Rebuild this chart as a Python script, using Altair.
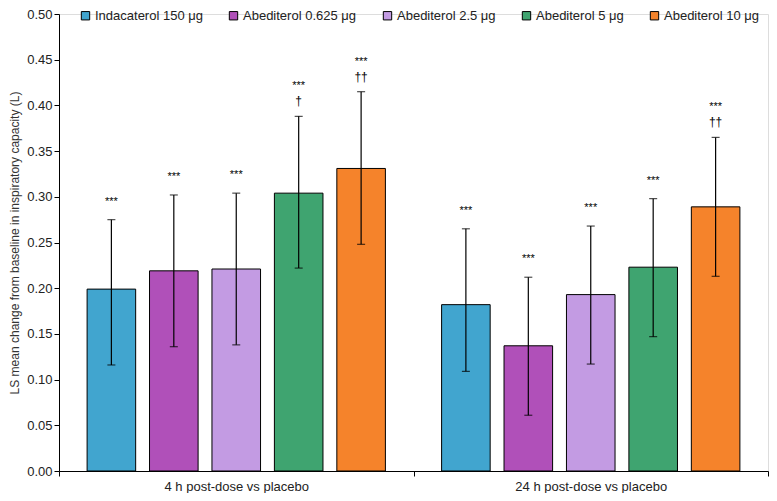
import altair as alt
import pandas as pd

groups = ["4 h post-dose vs placebo", "24 h post-dose vs placebo"]
treatments = ["Indacaterol 150 μg", "Abediterol 0.625 μg", "Abediterol 2.5 μg",
              "Abediterol 5 μg", "Abediterol 10 μg"]
colors = ["#41A5CF", "#B050B9", "#C39BE3", "#3FA470", "#F5832B"]

means_4h = [0.199, 0.219, 0.221, 0.304, 0.331]
lower_4h = [0.116, 0.136, 0.138, 0.222, 0.248]
upper_4h = [0.275, 0.302, 0.304, 0.388, 0.415]
stars_4h = ["***", "***", "***", "***", "***"]
daggers_4h = ["", "", "", "†", "††"]

means_24h = [0.182, 0.137, 0.193, 0.223, 0.289]
lower_24h = [0.109, 0.061, 0.117, 0.147, 0.213]
upper_24h = [0.265, 0.212, 0.268, 0.298, 0.365]
stars_24h = ["***", "***", "***", "***", "***"]
daggers_24h = ["", "", "", "", "††"]

rows = []
for g, m, lo, up, st, dg in [
    (groups[0], means_4h, lower_4h, upper_4h, stars_4h, daggers_4h),
    (groups[1], means_24h, lower_24h, upper_24h, stars_24h, daggers_24h),
]:
    for i, t in enumerate(treatments):
        rows.append({"group": g, "treatment": t, "mean": m[i], "lower": lo[i],
                     "upper": up[i], "stars": st[i], "dagger": dg[i],
                     "has_dagger": dg[i] != ""})
df = pd.DataFrame(rows)

FONT = "Liberation Sans"

x_enc = alt.X("group:N", sort=groups, title=None,
              scale=alt.Scale(paddingInner=0, paddingOuter=0),
              axis=alt.Axis(labelAngle=0, tickBand="extent", labelFontSize=13,
                            labelColor="#222", domainColor="black", tickColor="black",
                            tickSize=5, labelPadding=4, labelFont=FONT))
xoff = alt.XOffset("treatment:N", sort=treatments,
                   scale=alt.Scale(paddingInner=0.222, paddingOuter=0.45))
y_scale = alt.Scale(domain=[0, 0.5], nice=False)

base = alt.Chart(df)

bars = base.mark_bar(stroke="black", strokeWidth=1).encode(
    x=x_enc,
    xOffset=xoff,
    y=alt.Y("mean:Q", scale=y_scale,
            title="LS mean change from baseline in inspiratory capacity (L)",
            axis=alt.Axis(format=".2f", values=[i * 0.05 for i in range(11)],
                          grid=False, labelFontSize=13, labelColor="#222",
                          titleFontSize=12, titleColor="#333", titleFontWeight="normal",
                          domainColor="black", tickColor="black", tickSize=5,
                          labelFont=FONT, titleFont=FONT, titlePadding=5)),
    color=alt.Color("treatment:N", sort=treatments,
                    scale=alt.Scale(domain=treatments, range=colors),
                    legend=alt.Legend(title=None, orient="none", direction="horizontal",
                                      legendX=20, legendY=-5, columns=5,
                                      symbolType="square", symbolSize=70,
                                      symbolStrokeColor="black", symbolStrokeWidth=1,
                                      labelFontSize=13, labelColor="#222", labelFont=FONT,
                                      columnPadding=24, symbolOffset=0, labelOffset=3)),
)

rules = base.mark_rule(color="black", strokeWidth=1.2).encode(
    x=alt.X("group:N", sort=groups), xOffset=xoff,
    y="lower:Q", y2="upper:Q")

caps_low = base.mark_tick(color="black", thickness=1.2, size=8).encode(
    x=alt.X("group:N", sort=groups), xOffset=xoff, y="lower:Q")
caps_up = base.mark_tick(color="black", thickness=1.2, size=8).encode(
    x=alt.X("group:N", sort=groups), xOffset=xoff, y="upper:Q")

stars_single = base.transform_filter("!datum.has_dagger").mark_text(
    fontSize=11, font=FONT, baseline="middle", dy=-18, color="black").encode(
    x=alt.X("group:N", sort=groups), xOffset=xoff, y="upper:Q", text="stars:N")
stars_double = base.transform_filter("datum.has_dagger").mark_text(
    fontSize=11, font=FONT, baseline="middle", dy=-30, color="black").encode(
    x=alt.X("group:N", sort=groups), xOffset=xoff, y="upper:Q", text="stars:N")
daggers = base.transform_filter("datum.has_dagger").mark_text(
    fontSize=12, font=FONT, baseline="middle", dy=-15, color="black").encode(
    x=alt.X("group:N", sort=groups), xOffset=xoff, y="upper:Q", text="dagger:N")

chart = alt.layer(bars, rules, caps_low, caps_up, stars_single, stars_double, daggers).properties(
    width=761, height=485,
    autosize=alt.AutoSizeParams(type="fit", contains="padding"),
    padding={"left": 0, "top": 0, "right": 0, "bottom": 0},
).configure_view(stroke=None).configure(background="white")

chart.save("out.html", embed_options={"renderer": "svg", "actions": False})
